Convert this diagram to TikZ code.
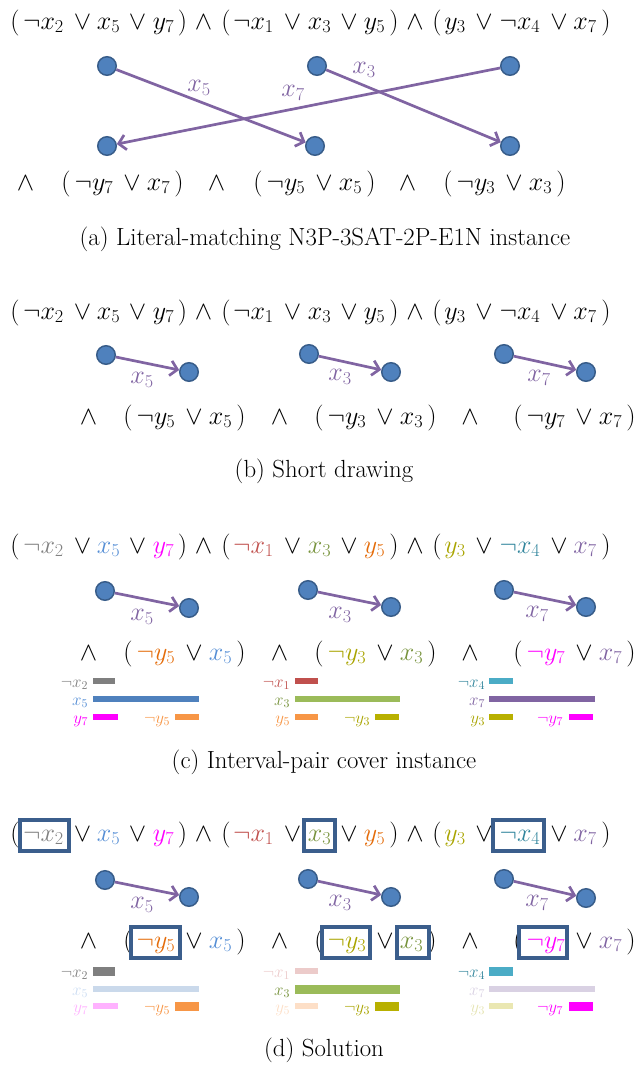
\RequirePackage{fix-cm}
\documentclass[tikz,border=0pt]{standalone}
\usetikzlibrary{arrows.meta,calc}
\definecolor{dotfill}{HTML}{4F81BD}
\definecolor{dotline}{HTML}{385D8A}
\definecolor{arrowc}{HTML}{8064A2}
\definecolor{boxc}{HTML}{3B5E8C}
\definecolor{tgray}{HTML}{808080}
\definecolor{tblue}{HTML}{558ED5}
\definecolor{tmag}{HTML}{FF00FF}
\definecolor{tred}{HTML}{C0504D}
\definecolor{tgreen}{HTML}{77933C}
\definecolor{torange}{HTML}{E46C0A}
\definecolor{tolive}{HTML}{A9A400}
\definecolor{tteal}{HTML}{31859C}
\definecolor{tpurple}{HTML}{8064A2}
\definecolor{bgray}{HTML}{7F7F7F}
\definecolor{bblue}{HTML}{4F81BD}
\definecolor{bmag}{HTML}{FF00FF}
\definecolor{bred}{HTML}{C0504D}
\definecolor{bgreen}{HTML}{9BBB59}
\definecolor{borange}{HTML}{F79646}
\definecolor{bolive}{HTML}{B8B000}
\definecolor{bteal}{HTML}{4BACC6}
\definecolor{bpurple}{HTML}{8064A2}

\newcommand\TopF[2]{%
\node[tok] (#1lpA) at (15,#2) {$($};
\node[tok,text=\cNxii] (#1nx2) at (43.5,#2) {$\neg x_2$};
\node[tok] (#1oA) at (82.5,#2) {$\vee$};
\node[tok,text=\cXv] (#1x5) at (108.5,#2) {$x_5$};
\node[tok] (#1oB) at (137.5,#2) {$\vee$};
\node[tok,text=\cYvii] (#1y7) at (163.5,#2) {$y_7$};
\node[tok] (#1rpA) at (182.5,#2) {$)$};
\node[tok] (#1aA) at (203.5,#2) {$\wedge$};
\node[tok] (#1lpB) at (226,#2) {$($};
\node[tok,text=\cNxi] (#1nx1) at (253.5,#2) {$\neg x_1$};
\node[tok] (#1oC) at (292.5,#2) {$\vee$};
\node[tok,text=\cXiii] (#1x3) at (319.5,#2) {$x_3$};
\node[tok] (#1oD) at (349,#2) {$\vee$};
\node[tok,text=\cYv] (#1y5) at (374.5,#2) {$y_5$};
\node[tok] (#1rpB) at (394,#2) {$)$};
\node[tok] (#1aB) at (415,#2) {$\wedge$};
\node[tok] (#1lpC) at (437,#2) {$($};
\node[tok,text=\cYiii] (#1y3) at (455,#2) {$y_3$};
\node[tok] (#1oE) at (484,#2) {$\vee$};
\node[tok,text=\cNxiv] (#1nx4) at (520,#2) {$\neg x_4$};
\node[tok] (#1oF) at (559,#2) {$\vee$};
\node[tok,text=\cXvii] (#1x7) at (585,#2) {$x_7$};
\node[tok] (#1rpC) at (606,#2) {$)$};
}
\newcommand\Clause[8]{%
\node[tok] (#1and) at (#2,#4) {$\wedge$};
\node[tok] (#1lp) at ({#3+1},#4) {$($};
\node[tok,text=#6] (#1n) at ({#3+29},#4) {$\neg #5$};
\node[tok] (#1or) at ({#3+67},#4) {$\vee$};
\node[tok,text=#8] (#1p) at ({#3+93.5},#4) {$#7$};
\node[tok] (#1rp) at ({#3+114},#4) {$)$};
}
\newcommand\BarRow[9]{%
\node[barlab,text=#5] (#1) at (#2,{#3+6}) {$#4$};
\draw[#9,draw=#8] (#6,#3) -- (#7,#3);
}
\newcommand\SetBlack{\def\cNxii{black}\def\cXv{black}\def\cYvii{black}\def\cNxi{black}\def\cXiii{black}\def\cYv{black}\def\cYiii{black}\def\cNxiv{black}\def\cXvii{black}}
\newcommand\SetColor{\def\cNxii{tgray}\def\cXv{tblue}\def\cYvii{tmag}\def\cNxi{tred}\def\cXiii{tgreen}\def\cYv{torange}\def\cYiii{tolive}\def\cNxiv{tteal}\def\cXvii{tpurple}}

\begin{document}
\begin{tikzpicture}[x=1pt,y=-1pt,
  tok/.style={anchor=base,inner sep=0pt,outer sep=0pt,font=\fontsize{26}{30}\selectfont},
  barlab/.style={anchor=base east,inner sep=0pt,outer sep=0pt,font=\fontsize{17}{20}\selectfont},
  vdot/.style={circle,fill=dotfill,draw=dotline,line width=1.5pt,minimum size=18.5pt,inner sep=0pt},
  arr/.style={draw=arrowc,line width=2.7pt,-{Straight Barb[length=7pt,width=15pt]}},
  alab/.style={text=arrowc,anchor=center,inner sep=0pt,font=\fontsize{26}{30}\selectfont},
  captext/.style={anchor=base,inner sep=0pt,font=\fontsize{24.8}{28}\selectfont},
  solbox/.style={draw=boxc,line width=4pt,inner sep=0pt,minimum height=31pt},
  thinbar/.style={line width=6pt},
  thickbar/.style={line width=9pt},
]
\useasboundingbox (0,0) rectangle (637,1068);

% ---------- (a)
\SetBlack
\TopF{a}{29}
\node[vdot] (aT1) at (107,66) {};
\node[vdot] (aT2) at (317,66) {};
\node[vdot] (aT3) at (510,66) {};
\node[vdot] (aB1) at (107,146) {};
\node[vdot] (aB2) at (315,146) {};
\node[vdot] (aB3) at (510,146) {};
\draw[arr] (aT1) -- (aB2);
\draw[arr] (aT2) -- (aB3);
\draw[arr] (aT3) -- (aB1);
\node[alab] (aL5) at (199,88) {$x_5$};
\node[alab] (aL3) at (364,70) {$x_3$};
\node[alab] (aL7) at (293,93) {$x_7$};
\Clause{aCa}{25.5}{65}{190}{y_7}{black}{x_7}{black}
\Clause{aCb}{216.5}{257}{190}{y_5}{black}{x_5}{black}
\Clause{aCc}{407.5}{447}{190}{y_3}{black}{x_3}{black}
\node[captext] (capa) at (325,245) {(a) Literal-matching N3P-3SAT-2P-E1N instance};

% ---------- (b)
\TopF{b}{319}
\node[vdot] (bT1) at (106,355) {};
\node[vdot] (bB1) at (189,372) {};
\node[vdot] (bT2) at (309,354) {};
\node[vdot] (bB2) at (391,372) {};
\node[vdot] (bT3) at (504,354) {};
\node[vdot] (bB3) at (586,372) {};
\draw[arr] (bT1) -- (bB1);
\draw[arr] (bT2) -- (bB2);
\draw[arr] (bT3) -- (bB3);
\node[alab] (bL5) at (142,380) {$x_5$};
\node[alab] (bL3) at (340,377) {$x_3$};
\node[alab] (bL7) at (539,378) {$x_7$};
\Clause{bCa}{88.5}{127}{424}{y_5}{black}{x_5}{black}
\Clause{bCb}{279.5}{318}{424}{y_3}{black}{x_3}{black}
\Clause{bCc}{470}{517}{424}{y_7}{black}{x_7}{black}
\node[captext] (capb) at (324,477) {(b) Short drawing};

% ---------- (c)
\SetColor
\TopF{c}{553}
\node[vdot] (cT1) at (105,591) {};
\node[vdot] (cB1) at (189,608) {};
\node[vdot] (cT2) at (308,590) {};
\node[vdot] (cB2) at (391,607) {};
\node[vdot] (cT3) at (504,590) {};
\node[vdot] (cB3) at (586,607) {};
\draw[arr] (cT1) -- (cB1);
\draw[arr] (cT2) -- (cB2);
\draw[arr] (cT3) -- (cB3);
\node[alab] (cL5) at (142,617) {$x_5$};
\node[alab] (cL3) at (340,615) {$x_3$};
\node[alab] (cL7) at (537,614) {$x_7$};
\Clause{cCa}{88.5}{127}{660}{y_5}{torange}{x_5}{tblue}
\Clause{cCb}{279.5}{318}{660}{y_3}{tolive}{x_3}{tgreen}
\Clause{cCc}{470}{517}{660}{y_7}{tmag}{x_7}{tpurple}
\BarRow{cR1}{88}{681}{\neg x_2}{tgray}{93}{115}{bgray}{thinbar}
\BarRow{cR2}{88}{699}{x_5}{tblue}{93}{199}{bblue}{thinbar}
\BarRow{cR3}{88}{717}{y_7}{tmag}{93}{118}{bmag}{thinbar}
\BarRow{cR4}{170}{717}{\neg y_5}{borange}{175}{199}{borange}{thinbar}
\BarRow{cR5}{290}{681}{\neg x_1}{tred}{295}{318}{bred}{thinbar}
\BarRow{cR6}{290}{699}{x_3}{tgreen}{295}{400}{bgreen}{thinbar}
\BarRow{cR7}{290}{717}{y_5}{borange}{295}{318}{borange}{thinbar}
\BarRow{cR8}{370}{717}{\neg y_3}{tolive}{375}{399}{bolive}{thinbar}
\BarRow{cR9}{485}{681}{\neg x_4}{tteal}{489}{513}{bteal}{thinbar}
\BarRow{cR10}{485}{699}{x_7}{tpurple}{489}{595}{bpurple}{thinbar}
\BarRow{cR11}{485}{717}{y_3}{tolive}{489}{513}{bolive}{thinbar}
\BarRow{cR12}{563}{717}{\neg y_7}{tmag}{569}{593}{bmag}{thinbar}
\node[captext] (capc) at (324,768) {(c) Interval-pair cover instance};

% ---------- (d)
\TopF{d}{841}
\node[vdot] (dT1) at (105,880) {};
\node[vdot] (dB1) at (189,897) {};
\node[vdot] (dT2) at (308,879) {};
\node[vdot] (dB2) at (391,897) {};
\node[vdot] (dT3) at (504,879) {};
\node[vdot] (dB3) at (586,898) {};
\draw[arr] (dT1) -- (dB1);
\draw[arr] (dT2) -- (dB2);
\draw[arr] (dT3) -- (dB3);
\node[alab] (dL5) at (142,905) {$x_5$};
\node[alab] (dL3) at (340,903) {$x_3$};
\node[alab] (dL7) at (537,903) {$x_7$};
\Clause{dCa}{88.5}{127}{948}{y_5}{torange}{x_5}{tblue}
\Clause{dCb}{279.5}{318}{948}{y_3}{tolive}{x_3}{tgreen}
\Clause{dCc}{470}{517}{948}{y_7}{tmag}{x_7}{tpurple}
\node[solbox,minimum width=49pt] (dbx1) at (44.5,835.5) {};
\node[solbox,minimum width=31pt] (dbx2) at (319.5,835.5) {};
\node[solbox,minimum width=51pt] (dbx3) at (518.5,835.5) {};
\node[solbox,minimum width=49pt] (dbx4) at (155.5,942.5) {};
\node[solbox,minimum width=48pt] (dbx5) at (346,942.5) {};
\node[solbox,minimum width=32pt] (dbx6) at (413,942.5) {};
\node[solbox,minimum width=48pt] (dbx7) at (543,942.5) {};
\BarRow{dR1}{88}{971}{\neg x_2}{tgray}{93}{115}{bgray}{thickbar}
\BarRow{dR2}{88}{989}{x_5}{tblue!30}{93}{199}{bblue!30}{thinbar}
\BarRow{dR3}{88}{1006}{y_7}{tmag!30}{93}{118}{bmag!30}{thinbar}
\BarRow{dR4}{170}{1006}{\neg y_5}{borange}{175}{199}{borange}{thickbar}
\BarRow{dR5}{290}{971}{\neg x_1}{tred!30}{295}{318}{bred!30}{thinbar}
\BarRow{dR6}{290}{989}{x_3}{tgreen}{295}{400}{bgreen}{thickbar}
\BarRow{dR7}{290}{1006}{y_5}{borange!30}{295}{318}{borange!30}{thinbar}
\BarRow{dR8}{370}{1006}{\neg y_3}{tolive}{375}{399}{bolive}{thickbar}
\BarRow{dR9}{485}{971}{\neg x_4}{tteal}{489}{513}{bteal}{thickbar}
\BarRow{dR10}{485}{989}{x_7}{tpurple!30}{489}{595}{bpurple!30}{thinbar}
\BarRow{dR11}{485}{1006}{y_3}{tolive!30}{489}{513}{bolive!30}{thinbar}
\BarRow{dR12}{563}{1006}{\neg y_7}{tmag}{569}{593}{bmag}{thickbar}
\node[captext] (capd) at (324,1056) {(d) Solution};
\end{tikzpicture}
\end{document}
